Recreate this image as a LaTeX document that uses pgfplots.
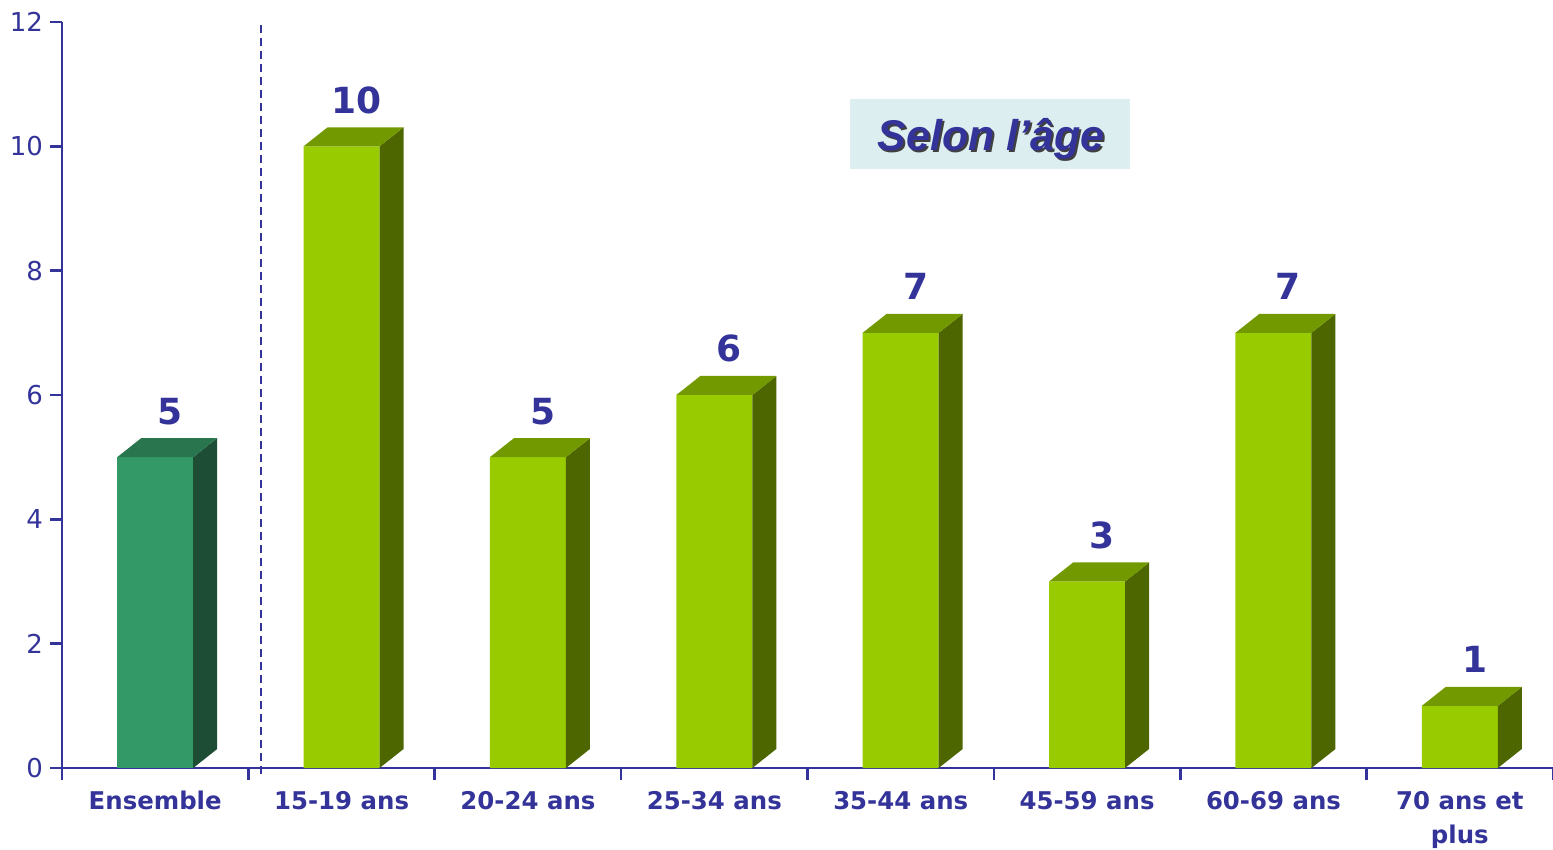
\documentclass[border=0pt]{standalone}
\usepackage{fontspec}
\setmainfont{DejaVu Sans}
\newfontfamily\arialfont{Liberation Sans}
\usepackage{pgfplots}
\pgfplotsset{compat=1.18}
\definecolor{txt}{RGB}{51,51,153}
\definecolor{ensF}{RGB}{51,153,102}
\definecolor{ensS}{RGB}{30,77,54}
\definecolor{ensT}{RGB}{40,117,78}
\definecolor{grF}{RGB}{153,204,0}
\definecolor{grS}{RGB}{77,102,0}
\definecolor{grT}{RGB}{115,153,0}
\definecolor{boxbg}{RGB}{221,238,240}
\pgfplotsset{
  box3d/.style 2 args={
    only marks, mark=*, mark size=0pt, mark options={draw opacity=0, fill opacity=0},
    scatter, visualization depends on={rawy \as \ry},
    scatter/@pre marker code/.code={%
      \pgfmathsetmacro\hh{\ry*373/12}%
      \pgfmathsetmacro\hb{9.5-\hh}%
      \fill[#1, fill opacity=1] (19pt,0pt) -- (31pt,9.5pt) -- (31pt,\hb pt) -- (19pt,-\hh pt) -- cycle;
      \fill[#2, fill opacity=1] (-19pt,0pt) -- (19pt,0pt) -- (31pt,9.5pt) -- (-7pt,9.5pt) -- cycle;
    },
    scatter/@post marker code/.code={},
  }
}
\begin{document}
\begin{tikzpicture}
\begin{axis}[name=ax, scale only axis, width=745.5pt, height=373pt,
  xmin=-0.5, xmax=7.5, ymin=0, ymax=12, clip=false,
  axis lines=left, axis line style={txt, line width=1.3pt, -},
  ytick={0,2,...,12},
  xtick={0,...,7},
  xticklabels={Ensemble,15-19 ans,20-24 ans,25-34 ans,35-44 ans,45-59 ans,60-69 ans,{70 ans et\\plus}},
  minor xtick={-0.5,0.5,...,7.5},
  tick align=outside, major tick length=6pt, minor tick length=6pt,
  tick style={txt, line width=1.3pt},
  major x tick style={draw=none},
  /pgf/number format/assume math mode=true,
  yticklabel style={font=\fontsize{13}{15}\selectfont, text=txt},
  xticklabel style={font=\bfseries\fontsize{12.2}{17}\selectfont, text=txt, align=center, yshift=-2pt},
  nodes near coords style={font=\bfseries\fontsize{18}{20}\selectfont, text=txt, anchor=base, yshift=16.5pt, xshift=7.5pt},
]
% front faces
\addplot[ybar, bar width=38pt, bar shift=0pt, fill=ensF, draw=none, nodes near coords] coordinates {(0,5)};
\addplot[ybar, bar width=38pt, bar shift=0pt, fill=grF, draw=none, nodes near coords] coordinates {(1,10) (2,5) (3,6) (4,7) (5,3) (6,7) (7,1)};
% side and top faces
\addplot[box3d={ensS}{ensT}] coordinates {(0,5)};
\addplot[box3d={grS}{grT}] coordinates {(1,10) (2,5) (3,6) (4,7) (5,3) (6,7) (7,1)};
% separator
\addplot[txt, line width=1pt, dash pattern=on 4pt off 2.5pt] coordinates {(0.57,-0.1) (0.57,12)};
% title box
\node[fill=boxbg, minimum width=140pt, minimum height=35pt, inner sep=0pt] at (axis cs:4.479,10.198) {};
\node[anchor=base, text=black!75, inner sep=0pt] at ([shift={(1pt,-1pt)}]axis cs:4.485,9.94) {\arialfont\bfseries\itshape\fontsize{21.5}{24}\selectfont Selon l’âge};
\node[anchor=base, text=txt, inner sep=0pt] at (axis cs:4.485,9.94) {\arialfont\bfseries\itshape\fontsize{21.5}{24}\selectfont Selon l’âge};
\end{axis}
\pgfresetboundingbox
\path ([shift={(-31pt,-40.5pt)}]ax.south west) rectangle ([shift={(0pt,11pt)}]ax.north east);
\end{tikzpicture}
\end{document}
